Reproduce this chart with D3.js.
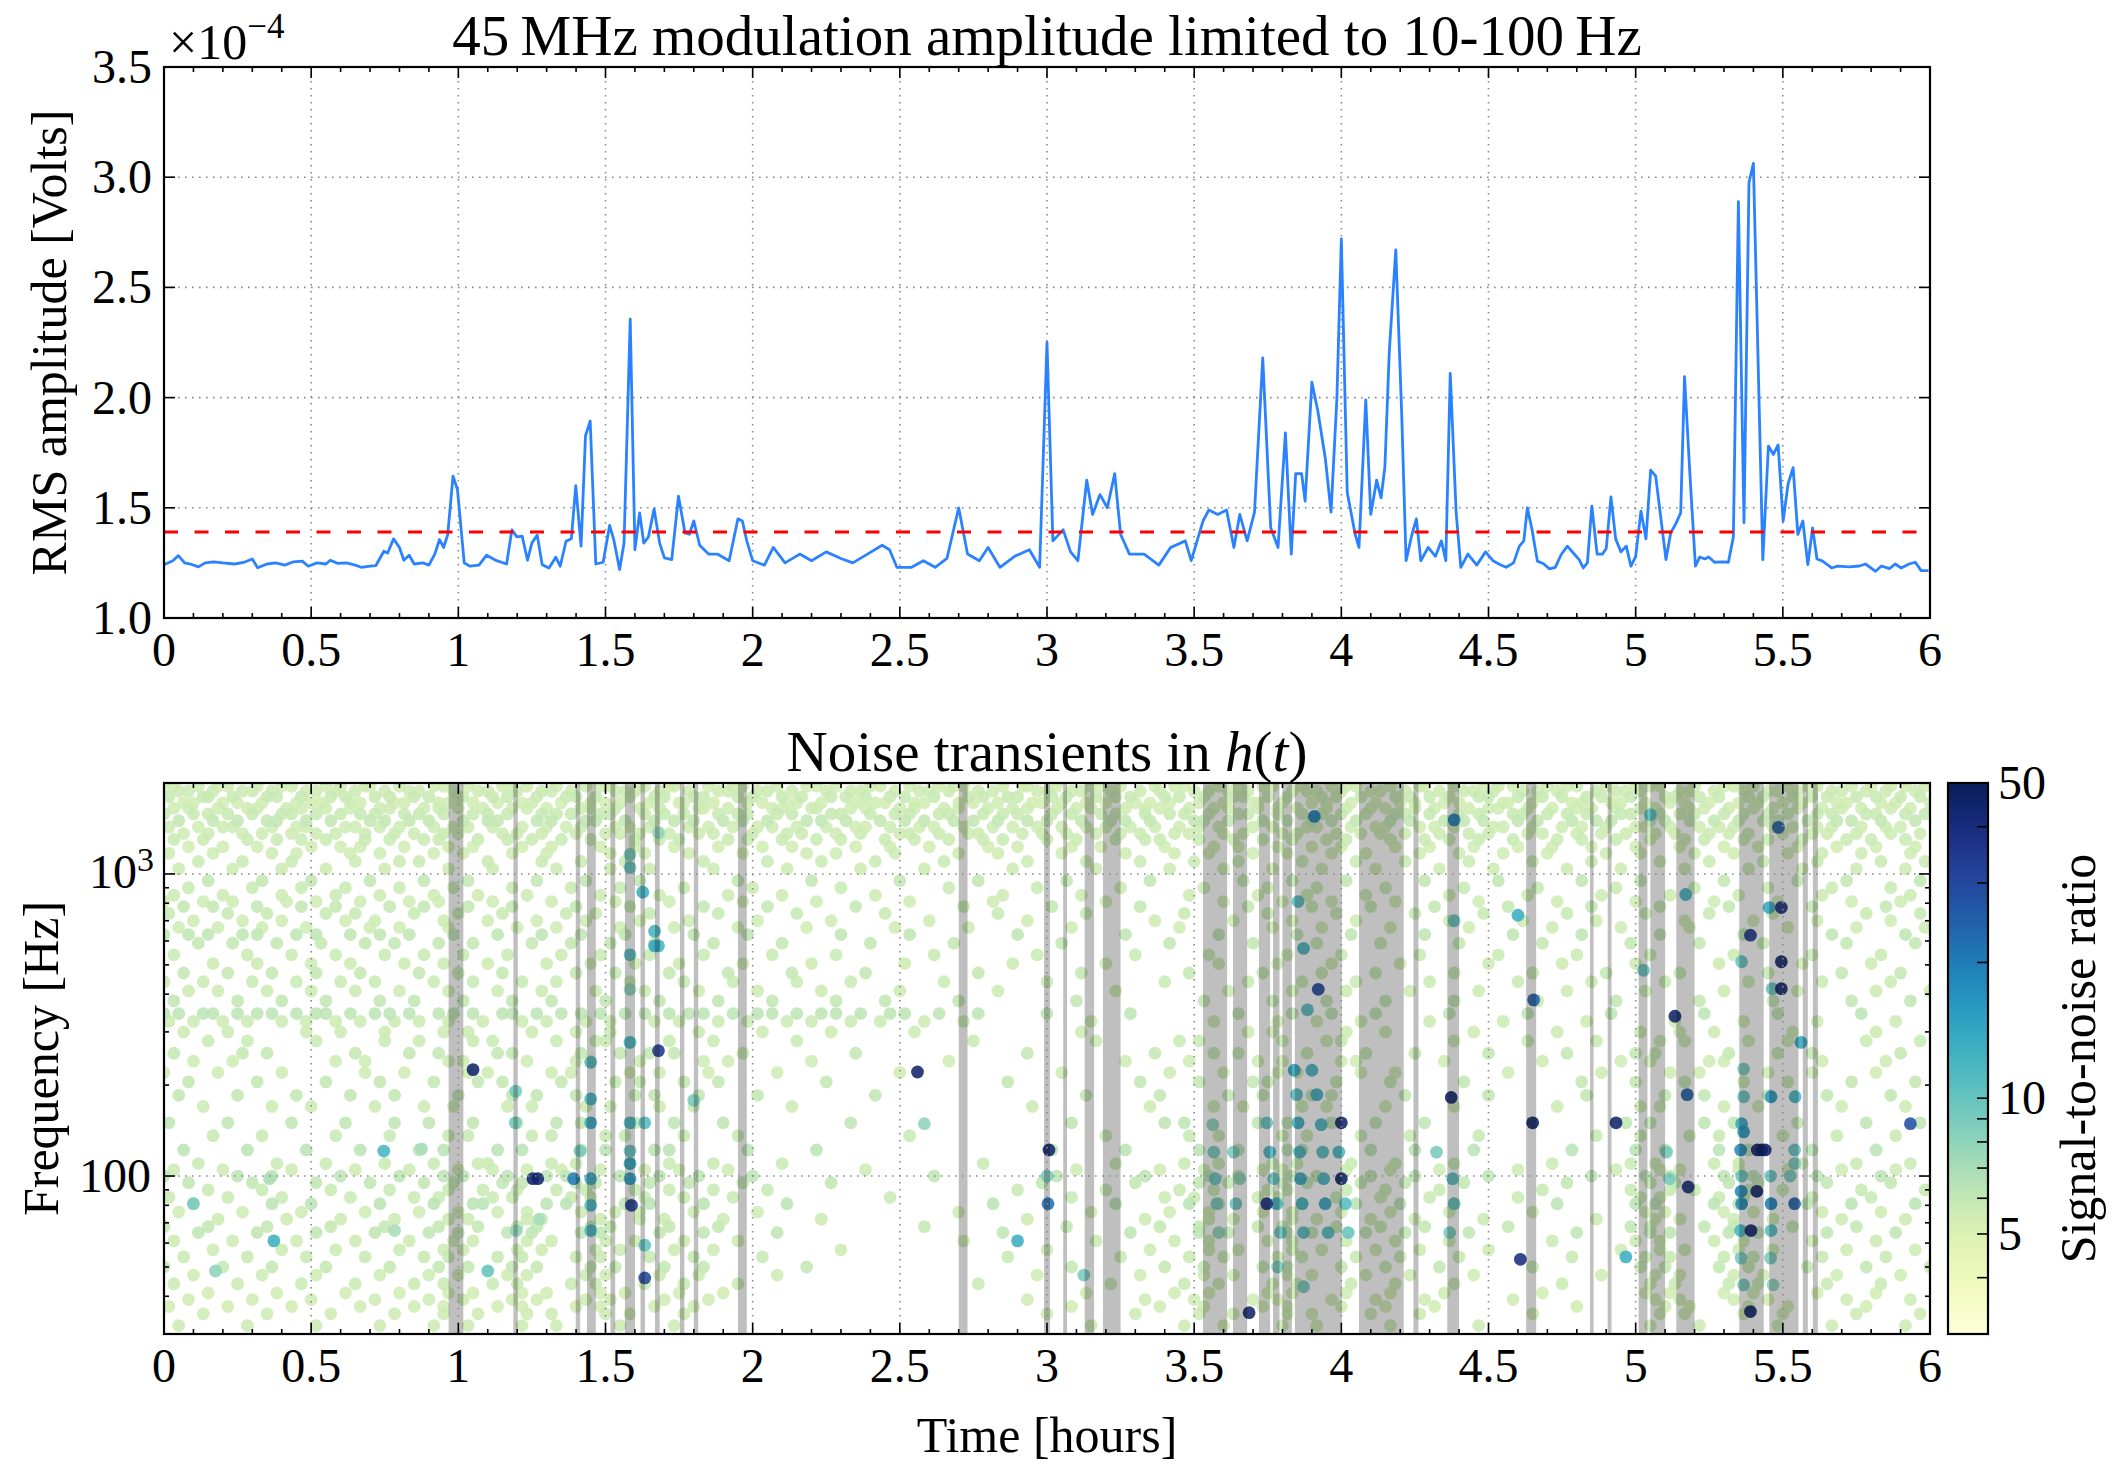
<!DOCTYPE html>
<html>
<head>
<meta charset="utf-8">
<script src="https://cdn.jsdelivr.net/npm/d3@7"></script>
<style>
  html, body { margin: 0; padding: 0; background: #fff; }
  svg { display: block; font-family: "Liberation Serif", "Times New Roman", serif; }
</style>
</head>
<body>
<svg id="fig" width="2124" height="1468"></svg>
<script>
// ---------------- data ----------------
// RMS amplitude of the 45 MHz modulation (units of 1e-4 V) vs time in hours
const ampTime = [0,0.03,0.049,0.07,0.09,0.117,0.14,0.17,0.2,0.24,0.27,0.3,0.318,0.35,0.38,0.41,0.44,0.47,0.49,0.52,0.55,0.565,0.59,0.62,0.65,0.67,0.7,0.72,0.747,0.76,0.78,0.8,0.815,0.833,0.85,0.88,0.9,0.92,0.936,0.95,0.964,0.982,0.997,1.02,1.04,1.07,1.096,1.13,1.164,1.182,1.199,1.217,1.235,1.25,1.268,1.285,1.308,1.331,1.346,1.366,1.384,1.399,1.417,1.432,1.448,1.467,1.492,1.514,1.528,1.548,1.563,1.584,1.6,1.616,1.63,1.646,1.665,1.684,1.7,1.725,1.748,1.77,1.785,1.8,1.82,1.85,1.88,1.92,1.95,1.965,1.98,2.0,2.04,2.07,2.11,2.16,2.2,2.25,2.3,2.34,2.39,2.44,2.465,2.49,2.54,2.58,2.62,2.66,2.7,2.73,2.77,2.8,2.84,2.89,2.94,2.975,3.0,3.02,3.055,3.08,3.105,3.135,3.155,3.18,3.205,3.23,3.25,3.28,3.33,3.38,3.42,3.47,3.49,3.53,3.55,3.58,3.61,3.635,3.655,3.68,3.705,3.733,3.76,3.785,3.81,3.83,3.845,3.865,3.877,3.9,3.92,3.946,3.965,3.985,4.0,4.02,4.047,4.06,4.083,4.1,4.12,4.135,4.148,4.163,4.185,4.205,4.22,4.24,4.255,4.27,4.295,4.32,4.34,4.355,4.37,4.39,4.406,4.43,4.46,4.49,4.515,4.54,4.56,4.585,4.605,4.62,4.632,4.648,4.666,4.687,4.707,4.727,4.747,4.768,4.788,4.808,4.822,4.836,4.851,4.869,4.887,4.9,4.916,4.932,4.95,4.968,4.984,5.0,5.018,5.035,5.051,5.068,5.103,5.119,5.135,5.153,5.166,5.184,5.203,5.218,5.235,5.248,5.268,5.295,5.315,5.332,5.349,5.368,5.385,5.4,5.432,5.451,5.468,5.484,5.501,5.518,5.535,5.551,5.568,5.585,5.601,5.616,5.635,5.666,5.686,5.726,5.76,5.781,5.815,5.835,5.862,5.882,5.902,5.929,5.95,5.97,5.995];
const ampValue = [1.242,1.26,1.283,1.25,1.245,1.232,1.25,1.255,1.25,1.245,1.252,1.268,1.228,1.245,1.25,1.24,1.255,1.258,1.235,1.25,1.245,1.262,1.248,1.25,1.24,1.23,1.235,1.238,1.303,1.295,1.359,1.32,1.262,1.285,1.245,1.25,1.24,1.29,1.356,1.32,1.379,1.644,1.583,1.25,1.235,1.24,1.285,1.26,1.245,1.4,1.368,1.371,1.262,1.341,1.376,1.242,1.227,1.276,1.235,1.348,1.36,1.6,1.326,1.826,1.894,1.245,1.253,1.42,1.356,1.22,1.34,2.356,1.31,1.477,1.34,1.368,1.495,1.34,1.273,1.265,1.553,1.386,1.38,1.44,1.33,1.29,1.29,1.26,1.45,1.44,1.35,1.26,1.24,1.32,1.25,1.29,1.26,1.3,1.27,1.25,1.29,1.33,1.31,1.23,1.23,1.26,1.23,1.27,1.5,1.29,1.26,1.32,1.23,1.28,1.31,1.23,2.25,1.35,1.4,1.3,1.26,1.625,1.47,1.56,1.5,1.655,1.38,1.29,1.29,1.24,1.32,1.35,1.26,1.44,1.49,1.47,1.49,1.32,1.47,1.35,1.48,2.18,1.41,1.32,1.84,1.29,1.655,1.655,1.53,2.07,1.94,1.72,1.48,2.0,2.72,1.57,1.38,1.32,1.99,1.47,1.625,1.545,1.686,2.21,2.67,1.93,1.26,1.38,1.45,1.26,1.32,1.28,1.35,1.26,2.11,1.48,1.23,1.29,1.24,1.3,1.26,1.242,1.23,1.25,1.326,1.35,1.5,1.4,1.258,1.246,1.223,1.23,1.288,1.326,1.295,1.265,1.227,1.25,1.508,1.29,1.29,1.315,1.55,1.359,1.3,1.326,1.235,1.28,1.485,1.359,1.671,1.644,1.265,1.386,1.424,1.477,2.095,1.659,1.235,1.277,1.268,1.277,1.253,1.255,1.253,1.368,2.889,1.432,2.976,3.063,1.265,1.78,1.742,1.785,1.44,1.61,1.682,1.379,1.44,1.242,1.409,1.268,1.258,1.227,1.235,1.232,1.236,1.245,1.212,1.236,1.224,1.245,1.227,1.245,1.253,1.215,1.215];
const ampThreshold = 1.39;

// time spans (hours) flagged by the amplitude threshold
const vetoStart = [0.967,1.187,1.399,1.437,1.517,1.566,1.619,1.668,1.753,1.800,1.950,2.700,2.990,3.055,3.128,3.190,3.530,3.632,3.720,3.768,3.800,3.842,4.060,4.245,4.360,4.628,4.845,4.905,5.010,5.050,5.138,5.352,5.454,5.568,5.602];
const vetoEnd   = [1.017,1.202,1.414,1.467,1.533,1.600,1.634,1.684,1.768,1.815,1.980,2.730,3.010,3.068,3.160,3.250,3.612,3.680,3.758,3.790,3.832,4.002,4.212,4.262,4.400,4.662,4.857,4.918,5.040,5.100,5.200,5.435,5.553,5.585,5.619];

// quiet triggers in h(t): one frequency row each, trigger times in minutes
const bgFreq = [1950,1880,1800,1720,1650,1580,1500,1430,1360,1300,1230,1170,1100,1040,950,900,850,810,780,740,700,665,630,590,540,505,470,440,410,380,345,325,
                300,280,255,240,220,205,185,170,150,136,122,110,105,100,95,90,85,81,76,72,68,65,61,57,54,50,47,44,41,39,37,35,32];
const bgSnr  = [5.4,5.6,5.8,5.4,5.5,5.8,6.0,5.5,5.6,5.7,5.4,5.5,5.7,5.6,6.0,5.7,5.6,5.5,5.9,5.8,5.5,5.5,6.1,5.9,5.7,5.6,5.9,5.7,5.6,6.0,6.2,5.6,
                5.6,5.7,5.9,5.5,5.5,5.9,6.0,5.6,6.1,5.8,6.3,5.7,5.5,6.2,6.0,5.8,5.7,6.3,5.5,5.6,5.9,6.1,5.6,5.6,5.8,5.9,5.5,5.7,5.4,5.5,5.4,5.6,5.6];
const bgTimes = [
  "0 2 7 11 13 19 24 26 33 36 41 42 48 55 57 62 69 71 74 80 86 89 91 98 103 104 111 116 118 125 131 133 137 144 146 152 158 161 163 171 175 176 182 189 191 195 202 206 208 215 219 224 226 232 238 241 243 250 256 257 263 269 272 275 282 286 288 294 300 303 305 312 318 320 324 331 335 337 344 348 352 355 359",
  "3 5 10 16 18 22 29 31 35 39 45 50 52 59 64 66 72 77 79 83 92 94 96 101 107 113 115 121 123 128 135 140 142 149 154 156 160 166 169 178 180 185 187 193 199 203 210 213 217 221 230 233 235 240 246 248 253 260 265 267 271 277 280 284 292 296 298 301 309 311 316 322 327 329 333 340 342 347 351 357",
  "1 8 9 14 21 23 28 34 37 43 46 51 54 60 61 67 70 76 82 84 88 95 100 102 108 110 117 120 126 130 136 139 143 148 151 157 164 167 172 174 181 184 190 194 197 204 207 212 218 220 225 229 236 239 244 251 254 258 262 268 270 276 281 285 290 293 299 306 308 313 317 323 326 332 336 339 345 349 354 358",
  "4 6 12 15 20 27 30 32 38 40 47 49 56 58 63 68 73 75 81 87 90 93 99 105 106 112 119 122 127 129 134 141 145 147 153 155 162 165 170 177 179 183 188 192 198 201 205 211 216 222 223 228 234 237 242 247 252 255 261 264 273 274 279 287 289 295 297 302 307 310 315 321 325 330 334 341 343 350 353 360",
  "2 5 11 17 19 25 28 33 38 44 46 53 56 60 65 71 74 78 85 87 92 97 101 109 110 115 124 126 132 133 140 143 150 153 159 162 168 173 176 182 186 189 196 200 203 209 214 217 223 227 231 237 241 246 249 255 259 266 270 272 278 283 288 291 296 301 304 311 314 319 324 328 333 338 342 346 352 356",
  "0 6 9 13 18 24 26 31 36 40 43 49 52 57 63 66 70 77 80 83 89 91 98 102 106 113 117 119 125 128 136 138 144 149 152 158 160 167 171 174 181 185 191 194 200 205 208 213 219 221 227 232 236 240 245 251 253 258 264 268 275 277 282 286 290 297 299 305 309 312 318 322 327 331 337 340 347 349 355 359",
  "3 10 15 21 23 29 34 42 45 50 54 61 66 68 76 79 86 88 94 100 104 108 114 118 123 131 134 139 146 151 155 161 165 170 176 180 187 193 196 201 210 212 217 224 229 234 238 243 250 254 261 265 269 276 280 287 292 295 303 306 311 316 321 326 329 335 341 344 350 357",
  "1 7 12 14 22 27 29 37 39 44 48 55 59 62 67 73 78 82 85 92 95 99 107 111 116 121 124 129 135 141 143 148 154 157 163 169 173 178 183 188 192 197 202 207 211 215 222 226 233 235 242 247 249 256 259 263 271 273 279 285 289 294 300 302 307 313 317 320 328 332 337 340 346 351 354",
  "4 9 16 20 26 31 35 41 47 51 57 60 69 72 77 84 90 93 97 103 109 112 120 127 130 137 142 150 152 158 164 166 175 179 184 190 195 199 206 209 216 220 228 231 239 244 248 253 260 266 270 278 281 288 293 298 304 308 315 319 323 330 336 339 345 352 358",
  "2 8 17 23 28 33 41 46 53 56 64 70 75 81 87 96 101 105 115 119 126 133 138 147 153 160 167 171 180 186 194 200 203 211 218 224 230 237 241 250 257 262 268 275 284 289 296 303 310 314 322 327 334 343 348 355",
  "5 12 19 30 36 40 49 58 63 73 79 89 96 104 113 122 128 141 148 156 168 174 185 191 204 214 219 227 234 240 251 258 267 276 283 291 300 309 318 325 333 341 349 357",
  "1 10 22 27 38 44 55 61 71 78 91 98 107 118 131 137 149 162 170 183 196 206 213 222 229 238 245 256 264 273 282 294 301 312 320 331 338 346 356",
  "7 16 26 39 48 52 66 77 85 94 110 123 134 145 159 176 188 199 210 219 232 243 253 266 279 291 305 315 326 337 350 359",
  "3 14 24 33 45 58 67 80 91 99 112 127 142 155 173 190 205 216 226 236 247 260 271 286 297 310 323 334 345 355",
  "9 20 30 42 53 62 76 86 97 117 132 150 166 184 201 220 230 241 257 272 289 301 318 333 343 358",
  "5 18 28 37 48 59 71 83 93 106 120 138 160 178 195 212 225 235 249 265 280 296 312 327 340 352",
  "2 12 24 35 44 55 64 74 89 101 115 126 145 171 187 209 223 233 245 262 278 293 307 321 338 356",
  "0 8 14 25 31 40 50 56 67 79 92 103 118 133 152 169 192 216 228 238 251 268 284 300 316 329 344 354",
  "4 10 19 28 35 46 53 62 71 84 95 110 123 141 163 181 199 221 234 246 259 274 291 305 319 336 351",
  "1 13 21 33 39 51 60 69 82 88 99 113 129 147 170 188 208 225 239 255 269 286 302 315 328 347 358",
  "6 16 24 37 43 57 66 76 86 97 107 121 136 156 176 202 218 230 243 262 277 292 310 324 337 352",
  "3 11 20 29 42 48 58 72 80 93 104 117 131 149 164 185 207 226 236 250 266 283 297 311 331 345 359",
  "0 5 9 16 19 27 31 38 44 50 59 68 77 85 94 108 119 138 152 174 196 215 231 242 257 275 289 305 322 340 355",
  "7 14 23 32 41 47 56 63 75 83 91 100 112 126 144 161 183 205 222 235 248 264 281 299 313 326 343 357",
  "2 17 26 35 45 53 61 70 81 89 99 110 124 137 157 178 198 213 229 240 256 272 288 303 320 336 350",
  "10 19 30 38 49 57 66 78 87 96 105 118 132 151 173 192 215 227 238 252 270 285 300 317 334 348",
  "4 13 22 31 40 52 60 69 84 92 103 115 128 143 166 187 209 224 236 247 263 279 294 309 327 342 354",
  "0 8 18 27 36 43 55 63 73 80 95 106 116 129 140 159 180 204 221 232 243 258 276 291 306 323 338 352",
  "5 11 21 30 39 48 58 68 77 88 98 109 121 134 150 170 194 217 230 241 254 268 286 302 318 333 349 360",
  "2 15 24 33 44 51 61 71 79 90 101 113 124 137 147 162 186 212 226 237 249 263 280 296 313 328 344 356",
  "0 3 8 10 15 19 22 27 31 33 38 43 46 50 56 59 63 69 71 76 81 85 89 94 98 103 107 110 116 121 124 129 134 137 142 148 151 158 166 180 197 219 230 238 247 262 278 295 314 329 346",
  "1 6 12 17 24 29 35 40 47 52 58 65 73 78 86 91 100 105 113 119 127 132 140 146 155 163 189 214 227 235 244 258 273 290 308 322 337 353",
  "4 13 29 36 45 57 62 75 84 91 109 122 136 153 187 221 226 241 249 267 284 301 309 316 332 349",
  "9 17 31 45 52 63 67 80 88 90 103 112 129 165 190 207 211 228 237 240 263 278 292 305 310 323 331 347 358",
  "2 16 21 39 50 56 68 71 85 93 99 104 118 141 176 202 214 219 233 245 255 270 286 300 304 319 329 336 354",
  "6 14 35 41 58 61 74 84 87 97 110 115 132 160 196 209 223 228 240 243 261 281 297 303 315 318 338 351",
  "0 11 24 41 49 62 66 79 83 95 101 111 125 150 183 205 216 227 231 244 251 274 293 307 313 327 336 349",
  "5 19 33 44 55 64 69 81 92 97 106 113 135 172 199 211 222 225 239 250 265 289 300 310 322 331 344 357",
  "3 15 27 38 47 60 71 76 84 96 100 109 121 145 188 203 217 224 234 238 253 270 290 306 314 327 339 352",
  "8 22 30 43 53 59 70 75 86 91 101 108 128 177 201 214 220 232 237 249 263 284 301 305 318 325 342 355",
  "1 13 26 37 47 54 63 72 80 85 96 104 114 140 185 204 208 223 229 238 247 257 279 298 303 314 320 333 347 358",
  "10 20 35 46 58 62 75 79 90 94 106 117 152 192 209 215 228 233 244 254 268 292 301 311 317 330 341 353",
  "4 17 29 40 52 57 68 73 85 90 100 103 119 133 181 196 211 219 229 232 246 255 267 287 300 306 317 323 336 349",
  "7 23 33 45 55 64 66 79 84 95 103 112 126 167 194 208 215 226 231 242 251 263 283 299 304 316 321 334 345 356",
  "2 12 26 39 50 60 67 74 81 89 98 105 115 143 186 203 212 224 228 241 250 260 276 296 305 309 321 331 342 353",
  "0 15 22 36 48 57 61 70 78 82 93 101 109 120 157 182 200 213 219 230 235 246 255 270 291 302 307 318 324 337 350",
  "5 18 31 42 53 59 69 73 84 88 99 107 118 136 179 198 211 217 228 233 244 253 265 286 303 308 319 325 339 352",
  "9 20 34 46 58 65 72 80 86 96 103 112 123 174 192 207 214 225 229 241 249 260 281 299 307 312 323 330 346 359",
  "1 13 24 38 51 56 67 71 83 87 98 106 116 148 185 204 210 223 227 239 248 258 276 301 305 317 322 336 348",
  "6 22 30 44 55 63 65 78 82 94 99 110 127 169 194 209 215 227 232 243 252 263 284 300 304 316 321 335 344 357",
  "3 16 28 41 52 60 68 74 85 92 97 108 121 162 189 205 213 224 230 240 250 262 279 302 306 318 324 338 350",
  "11 25 36 47 58 62 74 77 89 97 102 114 134 176 200 213 218 230 235 246 255 269 292 304 309 320 328 342 355",
  "0 9 21 34 45 56 64 72 76 87 91 103 113 155 184 203 211 223 228 239 248 257 274 299 303 314 320 332 345",
  "7 19 31 43 54 60 70 75 85 89 101 110 125 171 197 211 217 229 234 245 253 266 288 303 307 319 325 339 353",
  "2 14 27 39 50 59 63 74 79 90 96 106 117 163 190 206 213 225 230 241 251 262 283 300 305 316 322 336 349",
  "10 24 35 48 57 61 72 77 88 93 104 112 138 180 201 213 219 230 236 247 256 270 297 305 310 321 328 343 357",
  "4 17 29 41 53 58 68 73 84 89 99 108 122 172 195 209 216 227 232 243 252 264 287 302 307 318 324 338 351",
  "0 12 22 33 46 56 62 71 76 87 92 102 110 131 185 204 212 224 229 240 249 260 279 301 306 317 323 335 347 360",
  "6 20 31 44 54 60 70 74 86 90 101 109 125 178 199 212 218 229 234 245 254 267 293 304 309 320 326 341 354",
  "2 15 28 39 51 57 67 72 83 88 98 106 117 166 193 208 215 226 231 242 251 263 285 303 308 319 325 339 350",
  "9 23 37 48 58 63 73 78 89 94 105 114 188 206 213 225 230 241 250 261 281 302 307 318 324 337 349",
  "5 18 30 43 54 61 71 76 86 91 102 111 176 200 210 222 227 238 247 257 275 304 309 320 327 343 356",
  "1 13 26 40 51 57 68 73 84 89 100 108 185 203 212 224 229 240 249 259 288 306 311 323 331 347",
  "8 21 34 47 57 64 74 79 90 95 106 180 198 211 218 229 234 246 256 279 305 310 322 330 345 358",
  "3 17 31 44 55 62 73 80 93 104 189 208 216 228 235 250 268 303 313 329 340 355"
];

// louder triggers: [time (min), frequency (Hz), SNR]
const loudTriggers = [
  [6,81,9],[10.5,48.5,8],[21.5,98,7],[22.4,61,13],[44.8,121,12],[47,66,7],[52.5,123,7],[63,225,45],[66,48.5,10],
  [71.6,150,9],[71.7,191,9],[71.8,66,8],[75.2,98,45],[76.2,98,45],[76.5,72,7],[83.5,98,20],[84.8,121,9],
  [87,150,14],[87,180,12],[87,98,14],[87,80,12],[87,66,12],[87,238,11],[95,1160,9],[95,1050,10],[95,540,11],
  [95,415,8],[95,277,12],[95,150,12],[95,121,10],[95,110,14],[95,98,16],[95.3,80,35],[97.6,870,13],[98,150,11],
  [98,59,10],[98,46,30],[100,646,12],[100,578,14],[100.8,578,12],[100.8,260,35],[100.8,1370,8],
  [108,178,9],[153.6,221,45],[155,149,8],[174,61,13],[180.4,122,45],[180.2,81,22],[180,100,9],[187.5,47,9],
  [213.8,148,8],[214,120,9],[214.3,98,10],[214.6,81,9],[215,65,8],[218,120,9],[218.5,81,10],[219.3,98,8],
  [221.2,35.3,45],[224.8,81,40],[224.8,150,10],[225.4,120,12],[226.2,98,10],[226.8,81,12],[227.6,65,10],[227,50,9],
  [230.4,224,14],[230.9,186,11],[231.2,150,13],[231.5,120,12],[231.7,98,14],[232,81,12],[232.3,65,11],[232.3,43,9],
  [231.2,810,11],[232.3,567,12],[233.1,355,11],[234.5,1550,20],[235.3,415,30],[234,224,12],[235,186,13],
  [235.9,148,12],[236.2,120,11],[236.4,98,12],[236.7,81,14],[237.3,65,11],[240,150,45],[240,98,48],
  [239.5,120,12],[240.8,81,11],[241.4,65,10],[259.4,120,9],[262.4,182,45],[263,1510,20],[263,700,10],
  [262.7,98,11],[263,81,10],[262.1,65,9],[276,730,13],[276.5,53,40],[279.2,383,25],[279,150,45],
  [296,150,45],[298,54,13],[301.6,480,10],[303,1570,11],[308,338,45],[310.5,186,25],[310.7,92,40],
  [310.2,855,12],[306.3,120,9],[306.9,98,9],
  [329.1,1426,25],[327.2,774,14],[329.7,774,40],[323.4,627,35],[321.6,512,10],[329.7,512,45],[327.8,417,10],
  [329.7,417,45],[333.7,277,14],[322,226,9],[322,183,10],[327.6,183,16],[332.5,183,12],[321.6,149,14],
  [322,140,16],[321.4,122,18],[324.8,122,45],[325.7,122,45],[326.4,122,45],[332.4,122,10],[332.4,110,9],
  [321.6,100,10],[327.5,100,10],[331.5,100,9],[321.5,89,18],[324.7,89,45],[321.6,81,18],[327.6,81,20],
  [332.4,81,25],[321.4,66,12],[323.5,66,45],[327.6,66,11],[321.5,53.5,9],[327.5,53.5,9],[322,43.6,9],
  [328,43.6,8],[323.4,35.6,45],[356,149,28]
];

// axis ticks
const hourTicks = [0,0.5,1,1.5,2,2.5,3,3.5,4,4.5,5,5.5,6];
const hourLabels = ["0","0.5","1","1.5","2","2.5","3","3.5","4","4.5","5","5.5","6"];
const ampTicks = [1.0,1.5,2.0,2.5,3.0,3.5];
const freqMajor = [100,1000];
const freqMinor = [40,50,60,70,80,90,200,300,400,500,600,700,800,900];
const snrMajor = [5,10,50];
const snrMinor = [4,6,7,8,9,20,30,40];

// ---------------- layout ----------------
const svg = d3.select("#fig");
const topBox = {x0: 164, x1: 1930, y0: 67, y1: 618};
const botBox = {x0: 164, x1: 1930, y0: 783, y1: 1334};
const cbBox  = {x0: 1948, x1: 1988, y0: 783, y1: 1334};
const TICK_FS = 48, LABEL_FS = 50, TITLE_FS = 57;

const x = d3.scaleLinear().domain([0, 6]).range([topBox.x0, topBox.x1]);
const yAmp = d3.scaleLinear().domain([1.0, 3.5]).range([topBox.y1, topBox.y0]);
const yFreq = d3.scaleLog().domain([30, 2000]).range([botBox.y1, botBox.y0]);
const ySnr = d3.scaleLog().domain([3, 50]).range([cbBox.y1, cbBox.y0]);
const snrColor = d3.scaleSequentialLog(d3.interpolateYlGnBu).domain([3, 50]);

const minorHours = d3.range(0, 61).map(i => i / 10).filter(h => Math.abs(h * 2 - Math.round(h * 2)) > 1e-6);

const defs = svg.append("defs");
function clip(id, b) {
  defs.append("clipPath").attr("id", id).append("rect")
    .attr("x", b.x0).attr("y", b.y0).attr("width", b.x1 - b.x0).attr("height", b.y1 - b.y0);
}
clip("clipTop", topBox);
clip("clipBot", botBox);

function gridLines(g, b, xs, ys, yScale) {
  const gg = g.append("g").attr("stroke", "#8a8a8a").attr("stroke-width", 1.6)
    .attr("stroke-dasharray", "1.6,5.4").attr("fill", "none");
  xs.forEach(v => gg.append("line").attr("x1", x(v)).attr("x2", x(v)).attr("y1", b.y0).attr("y2", b.y1));
  ys.forEach(v => gg.append("line").attr("x1", b.x0).attr("x2", b.x1).attr("y1", yScale(v)).attr("y2", yScale(v)));
}

function xTickMarks(g, b, values, len) {
  const gg = g.append("g").attr("stroke", "#000").attr("stroke-width", 1.6);
  values.forEach(v => {
    gg.append("line").attr("x1", x(v)).attr("x2", x(v)).attr("y1", b.y1).attr("y2", b.y1 - len);
    gg.append("line").attr("x1", x(v)).attr("x2", x(v)).attr("y1", b.y0).attr("y2", b.y0 + len);
  });
}
function yTickMarks(g, b, values, scale, len) {
  const gg = g.append("g").attr("stroke", "#000").attr("stroke-width", 1.6);
  values.forEach(v => {
    gg.append("line").attr("x1", b.x0).attr("x2", b.x0 + len).attr("y1", scale(v)).attr("y2", scale(v));
    gg.append("line").attr("x1", b.x1).attr("x2", b.x1 - len).attr("y1", scale(v)).attr("y2", scale(v));
  });
}
function frame(g, b) {
  g.append("rect").attr("x", b.x0).attr("y", b.y0).attr("width", b.x1 - b.x0).attr("height", b.y1 - b.y0)
    .attr("fill", "none").attr("stroke", "#000").attr("stroke-width", 2.2);
}
function hourLabelsAt(g, b) {
  g.append("g").attr("font-size", TICK_FS).attr("text-anchor", "middle")
    .selectAll("text").data(hourTicks).join("text")
    .attr("x", d => x(d)).attr("y", b.y1 + 48).text((d, i) => hourLabels[i]);
}

// ---------------- top panel: RMS amplitude ----------------
const gTop = svg.append("g");
gridLines(gTop, topBox, hourTicks.slice(1, -1), ampTicks.slice(1, -1), yAmp);

const ampLine = d3.line().x((d, i) => x(ampTime[i])).y(d => yAmp(d));
gTop.append("g").attr("clip-path", "url(#clipTop)").append("path")
  .datum(ampValue).attr("d", ampLine)
  .attr("fill", "none").attr("stroke", "#2b82ff").attr("stroke-width", 2.8)
  .attr("stroke-linejoin", "round");

gTop.append("line")
  .attr("x1", x(0)).attr("x2", x(6)).attr("y1", yAmp(ampThreshold)).attr("y2", yAmp(ampThreshold))
  .attr("stroke", "#ff0000").attr("stroke-width", 3).attr("stroke-dasharray", "14,16.5");

frame(gTop, topBox);
xTickMarks(gTop, topBox, hourTicks, 11);
xTickMarks(gTop, topBox, minorHours, 5);
yTickMarks(gTop, topBox, ampTicks, yAmp, 11);
hourLabelsAt(gTop, topBox);

gTop.append("g").attr("font-size", TICK_FS).attr("text-anchor", "end")
  .selectAll("text").data(ampTicks).join("text")
  .attr("x", topBox.x0 - 12).attr("y", d => yAmp(d) + 16).text(d => d3.format(".1f")(d));

// offset text above the y axis
const off = gTop.append("text").attr("x", 169).attr("y", 59).attr("font-size", 50);
off.append("tspan").text("\u00d710");
off.append("tspan").attr("dy", -21).attr("font-size", 35).text("\u22124");

gTop.append("text").attr("x", (topBox.x0 + topBox.x1) / 2).attr("y", 55)
  .attr("text-anchor", "middle").attr("font-size", TITLE_FS)
  .text("45\u2009MHz modulation amplitude limited to 10-100\u2009Hz");

gTop.append("text").attr("transform", `translate(66,${(topBox.y0 + topBox.y1) / 2}) rotate(-90)`)
  .attr("text-anchor", "middle").attr("font-size", LABEL_FS).text("RMS amplitude [Volts]");

// ---------------- bottom panel: noise transients ----------------
const gBot = svg.append("g");

const triggers = [];
bgTimes.forEach((row, r) => {
  row.split(" ").forEach(m => triggers.push({t: +m / 60, f: bgFreq[r], snr: bgSnr[r]}));
});
loudTriggers.forEach(([m, f, s]) => triggers.push({t: m / 60, f: f, snr: s}));
triggers.sort((a, b) => a.snr - b.snr);

const gPts = gBot.append("g").attr("clip-path", "url(#clipBot)");
gPts.selectAll("circle").data(triggers).join("circle")
  .attr("cx", d => x(d.t)).attr("cy", d => yFreq(d.f)).attr("r", 6.4)
  .attr("fill", d => snrColor(d.snr)).attr("fill-opacity", 0.88);

// flagged spans shaded over the triggers
gBot.append("g").attr("clip-path", "url(#clipBot)")
  .selectAll("rect").data(vetoStart).join("rect")
  .attr("x", (d, i) => x(d)).attr("width", (d, i) => x(vetoEnd[i]) - x(d))
  .attr("y", botBox.y0).attr("height", botBox.y1 - botBox.y0)
  .attr("fill", "#000").attr("fill-opacity", 0.25);

gridLines(gBot, botBox, hourTicks.slice(1, -1), freqMajor, yFreq);
frame(gBot, botBox);
xTickMarks(gBot, botBox, hourTicks, 11);
xTickMarks(gBot, botBox, minorHours, 5);
yTickMarks(gBot, botBox, freqMajor, yFreq, 11);
yTickMarks(gBot, botBox, freqMinor, yFreq, 5);
hourLabelsAt(gBot, botBox);

const fl = gBot.append("g").attr("font-size", TICK_FS).attr("text-anchor", "end");
fl.append("text").attr("x", botBox.x0 - 13).attr("y", yFreq(100) + 16).text("100");
const kHz = fl.append("text").attr("x", botBox.x0 - 10).attr("y", yFreq(1000) + 14);
kHz.append("tspan").text("10");
kHz.append("tspan").attr("dy", -17).attr("font-size", 34).text("3");

gBot.append("text").attr("x", (botBox.x0 + botBox.x1) / 2).attr("y", 771)
  .attr("text-anchor", "middle").attr("font-size", TITLE_FS)
  .call(t => {
    t.append("tspan").text("Noise transients in ");
    t.append("tspan").attr("font-style", "italic").text("h");
    t.append("tspan").text("(");
    t.append("tspan").attr("font-style", "italic").text("t");
    t.append("tspan").text(")");
  });

gBot.append("text").attr("transform", `translate(58,${(botBox.y0 + botBox.y1) / 2}) rotate(-90)`)
  .attr("text-anchor", "middle").attr("font-size", LABEL_FS).text("Frequency [Hz]");

gBot.append("text").attr("x", (botBox.x0 + botBox.x1) / 2).attr("y", 1452)
  .attr("text-anchor", "middle").attr("font-size", LABEL_FS).text("Time [hours]");

// ---------------- colour bar ----------------
const grad = defs.append("linearGradient").attr("id", "snrGrad")
  .attr("x1", 0).attr("x2", 0).attr("y1", 1).attr("y2", 0);
d3.range(0, 41).forEach(i => {
  const v = ySnr.invert(cbBox.y1 - (cbBox.y1 - cbBox.y0) * i / 40);
  grad.append("stop").attr("offset", i / 40).attr("stop-color", snrColor(v));
});
const gCb = svg.append("g");
gCb.append("rect").attr("x", cbBox.x0).attr("y", cbBox.y0)
  .attr("width", cbBox.x1 - cbBox.x0).attr("height", cbBox.y1 - cbBox.y0)
  .attr("fill", "url(#snrGrad)").attr("stroke", "#000").attr("stroke-width", 2.2);
const cbt = gCb.append("g").attr("stroke", "#000").attr("stroke-width", 1.6);
snrMajor.concat(snrMinor).forEach(v => {
  cbt.append("line").attr("x1", cbBox.x1).attr("x2", cbBox.x1 - 11).attr("y1", ySnr(v)).attr("y2", ySnr(v));
});
gCb.append("g").attr("font-size", TICK_FS)
  .selectAll("text").data(snrMajor).join("text")
  .attr("x", cbBox.x1 + 10).attr("y", d => ySnr(d) + 16).text(d => d);
gCb.append("text").attr("transform", `translate(2095,${(cbBox.y0 + cbBox.y1) / 2}) rotate(-90)`)
  .attr("text-anchor", "middle").attr("font-size", LABEL_FS).text("Signal-to-noise ratio");
</script>
</body>
</html>
